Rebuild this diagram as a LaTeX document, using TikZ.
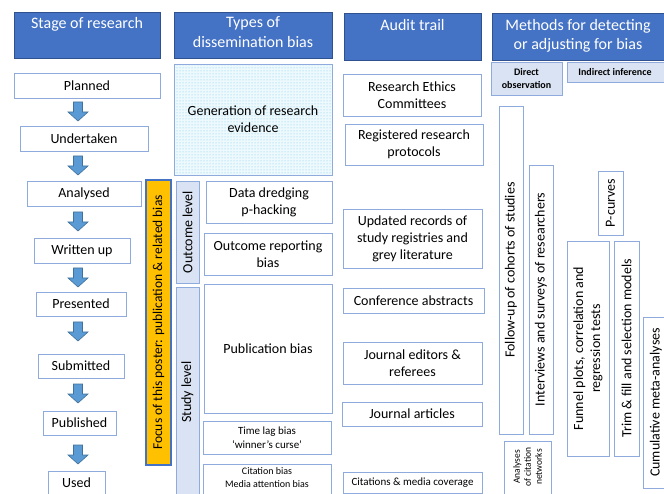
\documentclass[tikz,border=0pt]{standalone}
\usepackage{fontspec}
\setmainfont{Carlito}
\usetikzlibrary{patterns}
\definecolor{hdr}{HTML}{4472C4}
\definecolor{hdrline}{HTML}{2F528F}
\definecolor{bline}{HTML}{8FAADC}
\definecolor{lfill}{HTML}{DAE3F3}
\definecolor{orng}{HTML}{FFC000}
\definecolor{arrfill}{HTML}{5B9BD5}
\definecolor{arrline}{HTML}{41719C}
\definecolor{dotc}{HTML}{6CCBEE}
\definecolor{genfill}{HTML}{EEF9FD}
\newcommand\szH{\fontsize{16}{19.5}\selectfont}
\newcommand\szB{\fontsize{14}{17}\selectfont}
\newcommand\szS{\fontsize{11}{13.5}\selectfont}
\newcommand\szXS{\fontsize{10}{12.5}\selectfont}
\newcommand\szT{\fontsize{9.5}{11}\selectfont}
% style, name, x1, y1, x2, y2, text
\newcommand\bx[7]{\node[#1, anchor=north west, minimum width={#5-#3}, minimum height={#6-#4}] (#2) at (#3,#4) {#7};}
\tikzset{
  every node/.style={inner sep=1pt, outer sep=0pt},
  hdrbox/.style={draw=hdrline, fill=hdr, line width=0.8pt},
  htext/.style={text=white, font=\szH, align=center, inner sep=2pt},
  plain/.style={draw=bline, fill=white, line width=0.9pt, font=\szB, align=center},
  light/.style={draw=bline, fill=lfill, line width=0.9pt},
  gen/.style={draw=bline, line width=0.9pt, preaction={fill=genfill}, pattern=dots, pattern color=dotc, font=\szB, align=center},
  focus/.style={draw=hdr, fill=orng, line width=1.1pt},
  rtext/.style={rotate=90, font=\szB, align=center},
  blockarrow/.style={draw=arrline, fill=arrfill, line width=0.6pt, line join=miter},
}
\begin{document}
\begin{tikzpicture}[x=1pt, y=-1pt]
\useasboundingbox (0,0) rectangle (664,494);
\clip (0,0) rectangle (664,494);
% headers
\bx{hdrbox}{h1}{14}{12}{160}{58}{}
\bx{hdrbox}{h2}{174}{12}{332}{58}{}
\bx{hdrbox}{h3}{344}{13}{481}{60}{}
\bx{hdrbox}{h4}{492}{13}{672}{60}{}
\node[htext, anchor=north] (h1t) at ([yshift=-3pt]h1.north) {Stage of research};
\node[htext, anchor=north] (h2t) at ([yshift=-3pt]h2.north) {Types of\\dissemination bias};
\node[htext, anchor=north] (h3t) at ([yshift=-4pt]h3.north) {Audit trail};
\node[htext, anchor=north, xshift=-4pt] (h4t) at ([yshift=-4pt]h4.north) {Methods for detecting\\or adjusting for bias};
% stage column
\bx{plain}{planned}{14}{73}{160}{98}{Planned}
\bx{plain}{undertaken}{20}{126}{148}{151}{Undertaken}
\bx{plain}{analysed}{27}{181}{141}{206}{Analysed}
\bx{plain}{written}{34}{238}{130}{263}{Written up}
\bx{plain}{presented}{36}{292}{126}{316}{Presented}
\bx{plain}{submitted}{38}{354}{124}{378}{Submitted}
\bx{plain}{published}{43}{411}{116}{435}{Published}
\bx{plain}{used}{48}{471}{105}{500}{}
\node[font=\szB] (usedt) at (76.5,483) {Used};
\foreach \t [count=\i] in {102,156,212,268,322,384,445}{
  \coordinate (ar\i) at (78,\t);
  \draw[blockarrow] (73.5,\t) -- (82.5,\t) -- (82.5,\t+10) -- (88,\t+10) -- (78,\t+19) -- (68,\t+10) -- (73.5,\t+10) -- cycle;
}
\bx{focus}{focus}{146}{180}{171}{465}{}
\node[rtext, font=\fontsize{13.5}{16}\selectfont] (focust) at (focus.center) {Focus of this poster: publication \& related bias};
% types column
\bx{gen}{gen}{174}{64}{332}{175}{Generation of research\\evidence}
\bx{light}{outlev}{176}{181}{199}{283}{}
\node[rtext] (outlevt) at (outlev.center) {Outcome level};
\bx{light}{studylev}{176}{287}{199}{500}{}
\node[rtext] (studylevt) at (187.5,392) {Study level};
\bx{plain}{dredge}{206}{181}{332}{223}{Data dredging\\p-hacking}
\bx{plain}{outrep}{204}{233}{332}{275}{Outcome reporting\\bias}
\bx{plain}{pubbias}{204}{284}{332}{413}{Publication bias}
\bx{plain, font=\szS}{timelag}{203}{421}{331}{454}{Time lag bias\\‘winner’s curse’}
\bx{plain, font=\szXS}{citbias}{203}{464}{331}{500}{}
\node[font=\szXS, align=center, anchor=north] (citbiast) at (267,467) {Citation bias\\Media attention bias};
% audit column
\bx{plain}{ethics}{343}{74}{481}{116}{Research Ethics\\Committees}
\bx{plain}{registered}{345}{124}{483}{165}{Registered research\\protocols}
\bx{plain}{updated}{343}{209}{482}{268}{Updated records of\\study registries and\\grey literature}
\bx{plain}{conf}{343}{288}{484}{313}{Conference abstracts}
\bx{plain}{editors}{343}{342}{482}{384}{Journal editors \&\\referees}
\bx{plain}{articles}{342}{402}{482}{426}{Journal articles}
\bx{plain, font=\szS}{citmedia}{343}{472}{482}{493}{Citations \& media coverage}
% methods column
\bx{light, font=\bfseries\szXS, align=center}{direct}{491}{62}{562}{95}{Direct\\observation}
\bx{light, font=\bfseries\szXS}{indirect}{567}{62}{675}{82}{}
\node[font=\bfseries\szXS] (indirectt) at (615,72) {Indirect inference};
\bx{plain}{followup}{499}{106}{523}{434}{}
\node[rtext] (followupt) at (followup.center) {Follow-up of cohorts of studies};
\bx{plain}{interviews}{529}{165}{553}{434}{}
\node[rtext] (interviewst) at (interviews.center) {Interviews and surveys of researchers};
\bx{plain}{citnet}{504}{441}{551}{500}{}
\node[rtext, font=\szT] (citnett) at (527.5,467) {Analyses\\of citation\\networks};
\bx{plain}{pcurves}{598}{171}{623}{235}{}
\node[rtext] (pcurvest) at (pcurves.center) {P-curves};
\bx{plain}{funnel}{567}{241}{609}{456}{}
\node[rtext] (funnelt) at (funnel.center) {Funnel plots, correlation and\\regression tests};
\bx{plain}{trim}{614}{241}{639}{456}{}
\node[rtext] (trimt) at (trim.center) {Trim \& fill and selection models};
\bx{plain}{cumul}{643}{317}{672}{488}{}
\node[rtext] (cumult) at (656,402.5) {Cumulative meta-analyses};
\end{tikzpicture}
\end{document}
